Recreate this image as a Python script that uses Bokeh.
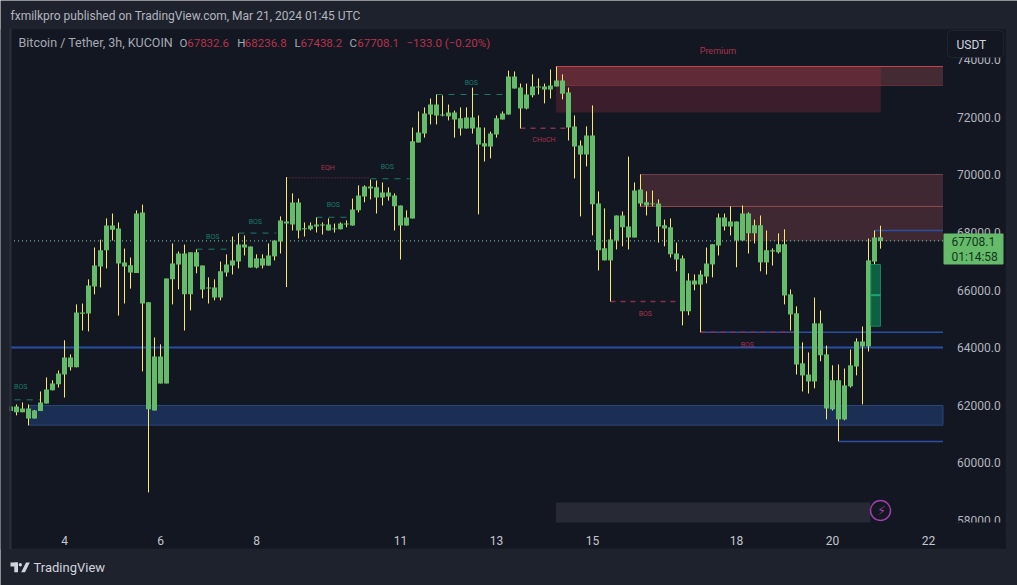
from bokeh.plotting import figure
from bokeh.embed import file_html
from bokeh.resources import INLINE
from bokeh.models import BoxAnnotation, Label, FixedTicker, NumeralTickFormatter, Range1d, PolyAnnotation

body_top = [61950,61950,61880,61880,61810,62090,62540,62750,63100,63650,
63650,65220,65220,66160,66850,67380,68240,68240,68140,66960,
66860,68660,68700,65570,63690,63690,66400,66920,67270,67270,
67310,67310,66850,66090,66090,66650,66890,67030,67580,67580,
67510,67100,67100,67200,67720,68420,68380,69045,69045,68150,
68240,68280,68280,68280,68140,68310,68310,68800,69290,69600,
69600,69570,69390,69390,69290,68940,68520,71170,71480,72140,
72450,72450,72100,72170,72170,71970,72000,72000,71650,71100,
71440,71970,72140,73430,73430,73040,72800,73080,73080,73080,
73110,73290,73290,72870,71690,71030,71370,71370,69010,67450,
67760,68590,68590,68210,69460,69500,69050,69010,69010,68250,
68180,67270,67100,66330,66330,66540,66920,67590,68520,68520,
68380,68380,68660,68660,68250,68250,67380,67380,67590,67590,
65850,65190,63450,63060,64840,64840,63760,62860,62860,62680,
63380,64210,64210,67030,67830,67833]
body_bot = [61790,61750,61750,61530,61530,61790,62050,62510,62720,63060,
63310,63310,65170,65180,66120,66820,67380,68100,66920,66820,
66610,66590,65530,61850,61810,62750,62750,66370,66890,65850,
65850,66820,66020,66050,65740,65740,66610,66850,66990,67480,
66780,66780,66850,66850,67170,67690,68310,68280,68070,68110,
68110,68210,68240,68070,68110,68110,68280,68240,68770,69250,
69530,69220,69220,69250,68910,68240,68240,68490,71130,71440,
72100,72070,72070,72040,71930,71620,71620,71620,71060,70990,
70990,71410,71930,72100,73010,72310,72310,72770,73040,72970,
72970,73080,72830,71650,70990,70710,70710,68980,67380,67030,
67030,67720,68180,67830,67830,69010,68940,68980,68210,68140,
67240,67060,65260,65260,66190,66190,66470,66890,67550,68210,
68210,67720,67720,67970,67970,66960,66960,67340,67310,65810,
65150,63410,63030,62820,62820,63730,61880,61850,61500,61500,
62650,63340,64040,64040,66990,67708]
wick_high = [62040,62020,62090,62020,61830,62470,62960,62860,63200,64250,
63760,65500,65530,66370,67480,67750,68490,68660,68350,67440,
67130,68770,68970,65570,64350,64110,66400,67620,67340,67580,
67310,67410,66850,66440,66370,66990,67240,67860,67970,67900,
67510,67240,67240,67620,67720,68560,69925,69360,69180,68350,
68350,68520,68350,68490,68310,68350,68420,69180,69640,69640,
69840,69810,69740,69570,69360,68940,68770,71650,72210,72350,
72660,72800,72770,72450,72240,72350,72350,73040,72070,71650,
71510,72070,72210,73630,73600,73180,73180,73500,73360,73180,
73670,73770,73500,73040,72070,71200,71690,72420,69430,68840,
68110,68590,68730,70640,69740,70020,69430,69460,69150,68450,
68490,67650,67200,66580,66540,66680,67480,67590,68660,68660,
68910,68380,68940,68700,68450,68590,68070,67450,67970,68110,
66020,65430,64180,63830,65740,65290,64070,63380,63410,63270,
63930,64320,64730,67790,68070,68237]
wick_low = [61700,61640,61750,61290,61530,61790,62050,62510,62610,62260,
63200,63310,64590,64560,65850,66090,66750,67720,65110,65530,
66050,66590,63170,58960,61810,62750,62750,65500,66020,64590,
65290,66580,65710,65530,65640,65640,66470,66540,66750,67200,
66780,66750,66750,66850,67030,67270,66100,68070,67790,67860,
68070,68000,67930,68070,68000,68110,68180,68240,68700,69050,
69150,68660,68940,69110,68070,67060,68240,68490,71130,71300,
71760,71760,72040,71900,71300,71370,71620,71440,68630,70470,
70580,71300,71930,72100,73010,71620,72280,72700,72800,72490,
72660,73080,72630,71200,69880,68560,70300,67900,66680,67030,
65600,67410,67520,67410,67830,68910,68590,68910,67650,67520,
67130,66650,64770,65120,65990,64530,66230,66440,67200,68070,
67900,66790,67720,67270,67620,66650,66540,66850,67270,65500,
64590,63060,62470,62400,62580,63520,61500,61810,60740,61470,
62610,63030,62020,63860,66890,67438]

price_ticks = [58000,60000,62000,64000,66000,68000,70000,72000,74000]
date_ticks = [9,25,41,65,81,97,121,137,153]
date_labels = ["4","6","8","11","13","15","18","20","22"]
last_price = 67708.1

bos_up = [(0.7,5,62180),(31,37,67420),(38,44.3,67980),(51,56.5,68530),(60,66.5,69870),(71,82.7,72800)]
bos_down = [(85,92.7,71630),(100,111.5,65600),(115,130.4,64530)]
eqh = (46,60,69900)
up_labels = [(1.7,62610,"BOS"),(33.7,67840,"BOS"),(40.8,68380,"BOS"),(53.8,68960,"BOS"),(62.8,70270,"BOS"),(76.8,73210,"BOS")]
down_labels = [(52.9,70260,"EQH"),(88.9,71210,"CHoCH"),(105.8,65170,"BOS"),(122.8,64080,"BOS"),(117.9,74300,"Premium")]

BG, PANE, BORDER = "#1e222d", "#131722", "#2a2e39"
FONT = "Roboto"
W, H = 1017, 585
x_left, x_right = -0.08, 155.42    # chart area inside the pane
y_axis_bottom = 57914

p = figure(width=W, height=H, output_backend="svg", toolbar_location=None,
           x_range=Range1d(-10/6, -10/6 + 169.5), y_range=Range1d(55723, 76069), y_axis_location="right",
           min_border_left=0, min_border_right=0, min_border_top=0, min_border_bottom=0,
           background_fill_color=BG, border_fill_color=BG, outline_line_color=None)
p.grid.visible = False

def canvas_box(l, t, r, b, **kw):
    a = BoxAnnotation(left=l, right=r, top=t, bottom=b, left_units="canvas", right_units="canvas",
                      top_units="canvas", bottom_units="canvas", **kw)
    p.add_layout(a)
    return a
def canvas_label(x, y, text, color="#b2b5be", size="12px", font=FONT, align="left", style="normal"):
    p.add_layout(Label(x=x, y=y, x_units="canvas", y_units="canvas", text=text, text_color=color,
                       text_font=font, text_font_size=size, text_align=align, text_baseline="middle",
                       text_font_style=style))

# pane behind everything
canvas_box(10, 28, 1006, 549, fill_color=PANE, fill_alpha=1, line_color=BORDER, line_width=2, level="underlay")

# axes
ay = p.yaxis[0]
ay.fixed_location = x_right
ay.ticker = FixedTicker(ticks=price_ticks)
ay.formatter = NumeralTickFormatter(format="0.0")
ay.axis_line_color = None
ay.major_tick_line_color = None
ay.minor_tick_line_color = None
ay.major_label_text_color = "#b2b5be"
ay.major_label_text_font = FONT
ay.major_label_text_font_size = "12px"
ay.major_label_standoff = 8
ax = p.xaxis[0]
ax.fixed_location = y_axis_bottom
ax.ticker = FixedTicker(ticks=date_ticks)
ax.major_label_overrides = dict(zip(date_ticks, date_labels))
ax.axis_line_color = None
ax.major_tick_line_color = None
ax.minor_tick_line_color = None
ax.major_label_text_color = "#c4c6ce"
ax.major_label_text_font = FONT
ax.major_label_text_font_size = "12px"
ax.major_label_standoff = 7

# zones
p.quad(left=[90.9], right=[x_right], top=[73774], bottom=[73113], fill_color="#e06a6a", fill_alpha=0.24, line_color=None)
p.quad(left=[90.9], right=[145.05], top=[73774], bottom=[72174], fill_color="#b03045", fill_alpha=0.26, line_color=None)
p.segment([90.9], [73774], [x_right], [73774], line_color="#c8404e", line_width=1)
p.segment([90.9], [73113], [x_right], [73113], line_color="#a04050", line_width=1, line_alpha=0.45)
p.quad(left=[104.9], right=[x_right], top=[70017], bottom=[68905], fill_color="#e06a6a", fill_alpha=0.22, line_color=None)
p.quad(left=[122], right=[x_right], top=[68905], bottom=[last_price], fill_color="#e06a6a", fill_alpha=0.22, line_color=None)
p.segment([104.9], [70017], [x_right], [70017], line_color="#6e4148", line_width=1)
p.segment([104.9], [68905], [x_right], [68905], line_color="#8f4a4c", line_width=1)
p.quad(left=[3], right=[x_right], top=[61983], bottom=[61300], fill_color="#1b2f55", line_color="#2a4478", line_width=1)

# lines
p.segment([x_left], [64000], [x_right], [64000], line_color="#2a4fa5", line_width=2)
p.segment([115], [64530], [x_right], [64530], line_color="#2a4fa5", line_width=1.5)
p.segment([144], [68070], [x_right], [68070], line_color="#2a4fa5", line_width=1.5)
p.segment([138], [60731], [x_right], [60731], line_color="#2a4fa5", line_width=1.5)
p.segment([x_left], [last_price], [x_right], [last_price], line_color="#7fd6b5", line_width=1, line_dash="1 3")

idx = list(range(len(body_top)))
# dark strip and bolt marker
p.quad(left=[90.9], right=[143.3], top=[58610], bottom=[57914], fill_color="#272a34", line_color=None)

# structure lines
for a, b, v in bos_up:
    p.segment([a], [v], [b], [v], line_color="#1c7a6a", line_width=1, line_dash="6 6")
for a, b, v in bos_down:
    p.segment([a], [v], [b], [v], line_color="#8a2f4a", line_width=1.5, line_dash="5 5")
p.segment([eqh[0]], [eqh[2]], [eqh[1]], [eqh[2]], line_color="#9a2f50", line_width=1, line_dash="1 2")

# candles
p.segment(idx, wick_low, idx, wick_high, line_color="#fbe95e", line_width=1)
p.vbar(x=idx, top=body_top, bottom=body_bot, width=5/6, fill_color="#66bb6a", line_color=None)

# position box
p.quad(left=[143.4], right=[145], top=[66887], bottom=[64740], fill_color="#0f5f43", line_color="#16835c", line_width=1)
p.segment([143.4], [65820], [145], [65820], line_color="#1fa574", line_width=2)

for a, v, t in up_labels:
    p.add_layout(Label(x=a, y=v, text=t, text_color="#1c7a6a", text_font=FONT, text_font_size="7px",
                       text_align="center", text_baseline="middle"))
for a, v, t in down_labels:
    p.add_layout(Label(x=a, y=v, text=t, text_color="#a8324c", text_font=FONT, text_font_size="7px" if t != "Premium" else "9px",
                       text_align="center", text_baseline="middle"))

p.scatter([145], [58332], size=20, marker="circle", fill_color=PANE, line_color="#9c3fa8", line_width=1.5)
canvas_label(881, 510, "\u26a1", color="#9c3fa8", size="13px", font="DejaVu Sans", align="center")

# masks
canvas_box(0, 29, 9, 549, fill_color=BG, fill_alpha=1, line_color=None)
canvas_box(9, 28, 11, 549, fill_color=BORDER, fill_alpha=1, line_color=None)
canvas_box(943, 522, 1003, 530, fill_color=PANE, fill_alpha=1, line_color=None)
canvas_box(947, 30, 1003, 57, fill_color=PANE, fill_alpha=1, line_color="#434651", line_width=1, border_radius=4)
canvas_label(956, 44, "USDT", color="#d1d4dc", size="12px")
canvas_box(943, 233, 1003, 264, fill_color="#66bb6a", fill_alpha=1, line_color=None, border_radius=1)
canvas_label(951, 241, "67708.1", color="#10361d", size="12px")
canvas_label(951, 256, "01:14:58", color="#10361d", size="12px")

# header
canvas_label(10, 15, "fxmilkpro published on TradingView.com, Mar 21, 2024 01:45 UTC", color="#b2b5be", size="12px")
canvas_label(18, 42, "Bitcoin / Tether, 3h, KUCOIN", color="#a6a9b3", size="12.5px")
RED = "#b8324b"
for x, t, c in [(179, "O", "#a6a9b3"), (186.7, "67832.6", RED), (236.7, "H", "#a6a9b3"), (244.3, "68236.8", RED),
                (294, "L", "#a6a9b3"), (300, "67438.2", RED), (349, "C", "#a6a9b3"), (356.7, "67708.1", RED),
                (406, "\u2212133.0 (\u22120.20%)", RED)]:
    canvas_label(x, 42, t, color=c, size="11.5px")

# footer logo
canvas_box(10, 562, 17.5, 566, fill_color="#d1d4dc", fill_alpha=1, line_color=None)
canvas_box(13.8, 562, 17.5, 571.7, fill_color="#d1d4dc", fill_alpha=1, line_color=None)
canvas_box(18.2, 562.5, 21.5, 566, fill_color="#d1d4dc", fill_alpha=1, line_color=None, border_radius=2)
p.add_layout(PolyAnnotation(xs=[25.5, 29.3, 24.5, 20.7], ys=[562, 562, 571.7, 571.7],
                            xs_units="canvas", ys_units="canvas", fill_color="#d1d4dc", fill_alpha=1, line_color=None))
canvas_label(33, 567, "TradingView", color="#d1d4dc", size="13px")

open("out.html", "w").write(file_html(p, INLINE))
